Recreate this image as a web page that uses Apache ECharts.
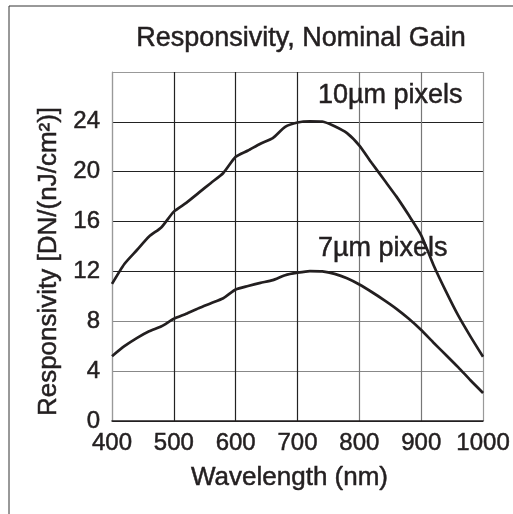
<!DOCTYPE html>
<html>
<head>
<meta charset="utf-8">
<script src="https://cdn.jsdelivr.net/npm/echarts@6/dist/echarts.min.js"></script>
<style>
html,body{margin:0;padding:0;background:#fff;}
#chart{width:513px;height:514px;}
</style>
</head>
<body>
<div id="chart"></div>
<script>
// Data
const wavelengths = [400,420,440,460,480,500,520,540,560,580,600,620,640,660,680,700,720,740,760,780,800,820,840,860,880,900,920,940,960,980,1000];
const resp10um = [11.0,12.6,13.7,14.8,15.55,16.8,17.5,18.3,19.1,19.9,21.2,21.7,22.25,22.7,23.6,23.95,24.05,24.03,23.65,23.1,22.1,20.7,19.35,18.0,16.5,14.9,12.5,10.4,8.45,6.75,5.15];
const resp7um = [5.2,6.0,6.65,7.2,7.6,8.2,8.6,9.05,9.45,9.85,10.55,10.83,11.08,11.3,11.7,11.9,12.03,12.0,11.8,11.45,10.95,10.35,9.7,9.0,8.2,7.3,6.28,5.3,4.3,3.25,2.25];
const seriesNames = ['10µm pixels','7µm pixels'];
const xTicks = [400,500,600,700,800,900,1000];
const yTicks = [0,4,8,12,16,20,24];

const FONT = '"Liberation Sans", Arial, sans-serif';
const INK = '#231f20';
const bold = {textBorderColor:INK, textBorderWidth:0.5};
const gBold = {stroke:INK, lineWidth:0.5};
const chart = echarts.init(document.getElementById('chart'), null, {renderer:'canvas'});
const pairs = (xs, ys) => xs.map((x,i)=>[x, ys[i]]);

chart.setOption({
  animation:false,
  backgroundColor:'#fff',
  grid:{left:112, right:26, top:72, bottom:93, containLabel:false},
  xAxis:{
    type:'value', min:xTicks[0], max:xTicks[xTicks.length-1], interval:100,
    name:'Wavelength (nm)', nameLocation:'middle', nameGap:44,
    nameTextStyle:Object.assign({fontFamily:FONT, fontSize:26, color:INK, padding:[0,16,0,0]}, bold),
    axisLine:{show:true, lineStyle:{color:INK, width:1.5}},
    axisTick:{show:false},
    axisLabel:Object.assign({fontFamily:FONT, fontSize:24, color:INK, margin:10,
      formatter:(v)=> String(v)}, bold),
    splitLine:{show:true, lineStyle:{width:1.2, color:['#999','#222','#222','#222','#777','#777','#999']}}
  },
  yAxis:{
    type:'value', min:0, max:28, interval:4,
    name:'Responsivity [DN/(nJ/cm²)]', nameLocation:'middle', nameGap:50,
    nameTextStyle:Object.assign({fontFamily:FONT, fontSize:26, color:INK, padding:[0,30,0,0]}, bold),
    axisLine:{show:true, lineStyle:{color:'#999', width:1.2}},
    axisTick:{show:false},
    axisLabel:Object.assign({fontFamily:FONT, fontSize:24, color:INK, margin:12,
      formatter:(v)=> yTicks.indexOf(v) >= 0 ? String(v) : ''}, bold),
    splitLine:{show:true, lineStyle:{width:1.2, color:['#222','#888','#888','#222','#222','#222','#222','#999']}}
  },
  series:[
    {name:seriesNames[0], type:'line', data:pairs(wavelengths, resp10um), showSymbol:false, smooth:0.2,
     lineStyle:{color:INK, width:2.7}, z:5},
    {name:seriesNames[1], type:'line', data:pairs(wavelengths, resp7um), showSymbol:false, smooth:0.2,
     lineStyle:{color:INK, width:2.7}, z:5}
  ],
  graphic:[
    {type:'line', shape:{x1:9, y1:6, x2:513, y2:6}, style:{stroke:'#333', lineWidth:1}},
    {type:'line', shape:{x1:9, y1:6, x2:9, y2:514}, style:{stroke:'#333', lineWidth:1}},
    {type:'text', x:301, y:39, style:Object.assign({text:'Responsivity, Nominal Gain', font:'27px '+FONT, fill:INK, textAlign:'center', textVerticalAlign:'middle'}, gBold)},
    {type:'text', x:318, y:96, z:10, style:Object.assign({text:seriesNames[0], font:'27px '+FONT, fill:INK, textAlign:'left', textVerticalAlign:'middle'}, gBold)},
    {type:'text', x:318, y:249, z:10, style:Object.assign({text:seriesNames[1], font:'27px '+FONT, fill:INK, textAlign:'left', textVerticalAlign:'middle'}, gBold)}
  ]
});
</script>
</body>
</html>
